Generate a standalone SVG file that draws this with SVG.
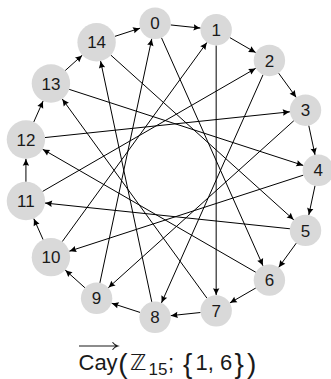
<svg xmlns="http://www.w3.org/2000/svg" width="331" height="379" viewBox="0 0 331 379">
<style>
.edge{stroke:#000;stroke-width:1;fill:none;marker-end:url(#arr)}
.node circle{fill:#d9d9d9;stroke:none}
.node text{font-family:"Liberation Sans","DejaVu Sans",sans-serif;font-size:17px;fill:#1a1a1a;text-anchor:middle}
.title{font-family:"Liberation Sans","DejaVu Sans",sans-serif;font-size:22px;fill:#1a1a1a}
.big{font-size:28px}
</style>
<defs>
<marker id="arr" markerUnits="userSpaceOnUse" markerWidth="10" markerHeight="10" viewBox="-8 -5 10 10" refX="0" refY="0" orient="auto">
<path d="M-7,-3.2 Q-3,-1 0,0 Q-3,1 -7,3.2 Q-5.5,0 -7,-3.2 Z" fill="#000"/>
</marker>
</defs>
<g id="connectors">
<line class="edge" x1="170.66" y1="24.95" x2="200.56" y2="28.09"/>
<line class="edge" x1="229.77" y1="37.58" x2="255.80" y2="52.61"/>
<line class="edge" x1="278.63" y1="73.16" x2="296.29" y2="97.48"/>
<line class="edge" x1="308.78" y1="125.54" x2="315.04" y2="154.94"/>
<line class="edge" x1="315.04" y1="185.66" x2="308.78" y2="215.06"/>
<line class="edge" x1="296.29" y1="243.12" x2="278.63" y2="267.44"/>
<line class="edge" x1="255.80" y1="287.99" x2="229.77" y2="303.02"/>
<line class="edge" x1="200.56" y1="312.51" x2="170.66" y2="315.65"/>
<line class="edge" x1="140.12" y1="312.44" x2="111.53" y2="303.15"/>
<line class="edge" x1="84.93" y1="287.79" x2="65.20" y2="270.02"/>
<line class="edge" x1="43.12" y1="239.63" x2="33.74" y2="218.57"/>
<line class="edge" x1="25.93" y1="181.83" x2="25.93" y2="158.77"/>
<line class="edge" x1="33.74" y1="122.03" x2="43.12" y2="100.97"/>
<line class="edge" x1="65.20" y1="70.58" x2="82.33" y2="55.15"/>
<line class="edge" x1="114.86" y1="36.37" x2="140.12" y2="28.16"/>
<line class="edge" x1="161.44" y1="37.65" x2="263.01" y2="265.80"/>
<line class="edge" x1="216.17" y1="45.43" x2="216.17" y2="295.17"/>
<line class="edge" x1="263.01" y1="74.80" x2="161.44" y2="302.95"/>
<line class="edge" x1="293.85" y1="120.69" x2="108.27" y2="287.79"/>
<line class="edge" x1="303.37" y1="175.15" x2="69.19" y2="251.24"/>
<line class="edge" x1="289.91" y1="228.78" x2="45.02" y2="203.04"/>
<line class="edge" x1="255.80" y1="272.29" x2="42.56" y2="149.17"/>
<line class="edge" x1="206.94" y1="298.17" x2="62.22" y2="98.96"/>
<line class="edge" x1="151.79" y1="301.93" x2="100.59" y2="61.08"/>
<line class="edge" x1="99.86" y1="282.94" x2="151.79" y2="38.67"/>
<line class="edge" x1="62.22" y1="241.64" x2="206.94" y2="42.43"/>
<line class="edge" x1="42.56" y1="191.43" x2="255.80" y2="68.31"/>
<line class="edge" x1="45.02" y1="137.56" x2="289.91" y2="111.82"/>
<line class="edge" x1="69.19" y1="89.36" x2="303.37" y2="165.45"/>
<line class="edge" x1="110.87" y1="55.15" x2="293.85" y2="219.91"/>
</g>
<g id="node-0" class="node"><circle cx="155.05" cy="23.31" r="15.7"/><text x="155.05" y="29.4">0</text></g>
<g id="node-1" class="node"><circle cx="216.17" cy="29.73" r="15.7"/><text x="216.17" y="35.8">1</text></g>
<g id="node-2" class="node"><circle cx="269.40" cy="60.46" r="15.7"/><text x="269.40" y="66.5">2</text></g>
<g id="node-3" class="node"><circle cx="305.52" cy="110.18" r="15.7"/><text x="305.52" y="116.3">3</text></g>
<g id="node-4" class="node"><circle cx="318.30" cy="170.30" r="15.7"/><text x="318.30" y="176.4">4</text></g>
<g id="node-5" class="node"><circle cx="305.52" cy="230.42" r="15.7"/><text x="305.52" y="236.5">5</text></g>
<g id="node-6" class="node"><circle cx="269.40" cy="280.14" r="15.7"/><text x="269.40" y="286.2">6</text></g>
<g id="node-7" class="node"><circle cx="216.17" cy="310.87" r="15.7"/><text x="216.17" y="317.0">7</text></g>
<g id="node-8" class="node"><circle cx="155.05" cy="317.29" r="15.7"/><text x="155.05" y="323.4">8</text></g>
<g id="node-9" class="node"><circle cx="96.60" cy="298.30" r="15.7"/><text x="96.60" y="304.4">9</text></g>
<g id="node-10" class="node"><circle cx="50.93" cy="257.17" r="19.2"/><text x="50.93" y="263.3">10</text></g>
<g id="node-11" class="node"><circle cx="25.93" cy="201.03" r="19.2"/><text x="25.93" y="207.1">11</text></g>
<g id="node-12" class="node"><circle cx="25.93" cy="139.57" r="19.2"/><text x="25.93" y="145.7">12</text></g>
<g id="node-13" class="node"><circle cx="50.93" cy="83.43" r="19.2"/><text x="50.93" y="89.5">13</text></g>
<g id="node-14" class="node"><circle cx="96.60" cy="42.30" r="19.2"/><text x="96.60" y="48.4">14</text></g>
<g id="title">
<path d="M79,346 H117.5 M112.5,342.3 Q114.5,345.1 117.8,346 Q114.5,346.9 112.5,349.7" stroke="#1a1a1a" stroke-width="1.1" fill="none"/>
<text class="title" y="370"><tspan x="78.5">Cay</tspan><tspan class="big" x="118.3" y="372.5">(</tspan><tspan x="130" y="370" font-family="DejaVu Sans" font-size="22">ℤ</tspan><tspan x="148.5" y="375.3" font-size="17">15</tspan><tspan x="168" y="370">;</tspan><tspan class="big" x="182.9" y="372.5">{</tspan><tspan x="195.5" y="370">1, 6</tspan><tspan class="big" x="234.4" y="372.5">}</tspan><tspan class="big" x="246.9">)</tspan></text>
</g>
</svg>
